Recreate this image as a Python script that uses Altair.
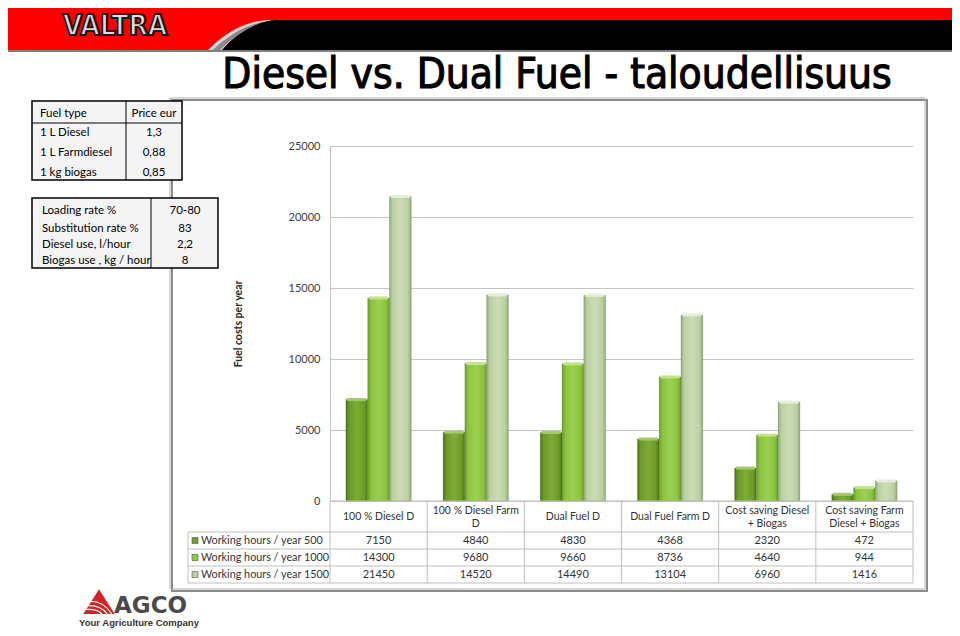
import altair as alt
import pandas as pd

# ---------------- data ----------------
categories = ["100 % Diesel D", "100 % Diesel Farm D", "Dual Fuel D", "Dual Fuel Farm D",
              "Cost saving Diesel + Biogas", "Cost saving Farm Diesel + Biogas"]
category_labels = ["100 % Diesel D", "100 % Diesel Farm\nD", "Dual Fuel D", "Dual Fuel Farm D",
                   "Cost saving Diesel\n+ Biogas", "Cost saving Farm\nDiesel + Biogas"]
series = ["Working hours / year 500", "Working hours / year 1000", "Working hours / year 1500"]
hours_500 = [7150, 4840, 4830, 4368, 2320, 472]
hours_1000 = [14300, 9680, 9660, 8736, 4640, 944]
hours_1500 = [21450, 14520, 14490, 13104, 6960, 1416]

fuel_header = ["Fuel type", "Price eur"]
fuel_types = ["1 L Diesel", "1 L Farmdiesel", "1 kg biogas"]
fuel_prices = ["1,3", "0,88", "0,85"]
param_names = ["Loading rate %", "Substitution rate %", "Diesel  use, l/hour", "Biogas use , kg / hour"]
param_values = ["70-80", "83", "2,2", "8"]

y_ticks = [0, 5000, 10000, 15000, 20000, 25000]

title_text = "Diesel vs. Dual Fuel - taloudellisuus"
y_title = "Fuel costs per year"

# ---------------- layout helpers (page px -> plot px) ----------------
X0, Y0 = 330, 146
W, H = 583, 355


def rx(x):
    return x - X0


def ry(y):
    return y - Y0


one = pd.DataFrame({"k": [0]})


def rect(x1, y1, x2, y2, **kw):
    return alt.Chart(one).mark_rect(**kw).encode(
        x=alt.value(rx(x1)), x2=alt.value(rx(x2)), y=alt.value(ry(y1)), y2=alt.value(ry(y2)))


def hline(x1, x2, y, color="#bfbfbf", w=1):
    return alt.Chart(one).mark_rule(color=color, strokeWidth=w).encode(
        x=alt.value(rx(x1)), x2=alt.value(rx(x2)), y=alt.value(ry(y)))


def vline(x, y1, y2, color="#bfbfbf", w=1):
    return alt.Chart(one).mark_rule(color=color, strokeWidth=w).encode(
        x=alt.value(rx(x)), y=alt.value(ry(y1)), y2=alt.value(ry(y2)))


def label(s, x, y, **kw):
    return alt.Chart(one).mark_text(text=s, **kw).encode(x=alt.value(rx(x)), y=alt.value(ry(y)))


def symbol(path, cx, cy, half, **kw):
    return alt.Chart(one).mark_point(shape=path, size=(2 * half) ** 2, opacity=1, **kw).encode(
        x=alt.value(rx(cx)), y=alt.value(ry(cy)))


BODY = "Lato"
NARROW = "Liberation Sans Narrow, DejaVu Sans Condensed, sans-serif"

# ---------------- bar data ----------------
rows = []
for s, vals in zip(series, [hours_500, hours_1000, hours_1500]):
    for c, v in zip(categories, vals):
        rows.append({"category": c, "series": s, "value": v})
df = pd.DataFrame(rows)
df_cat = pd.DataFrame({"category": categories, "label": category_labels})
df_cat["nlines"] = df_cat["label"].str.count("\n") + 1

xs = alt.Scale(domain=categories, paddingInner=0, paddingOuter=0)
xo = alt.Scale(domain=series, paddingInner=0, paddingOuter=0.73)
ys = alt.Scale(domain=[0, 25000], nice=False, zero=True)

yaxis = alt.Axis(values=y_ticks, format="d", grid=True, gridColor="#c4c4c4", gridWidth=1,
                 domain=True, domainColor="#c4c4c4", ticks=False, labelPadding=10,
                 labelFont=BODY, labelFontSize=11, labelColor="#404040",
                 title=y_title, titleFont=BODY, titleFontSize=10.5, titleFontWeight="bold",
                 titleColor="#262626", titleX=-92, titleY=H / 2, titleAngle=-90,
                 titleAlign="center", titleBaseline="middle")


def grad(edge, mid, centre):
    return alt.Gradient(gradient="linear", x1=0, x2=1, y1=0, y2=0, stops=[
        alt.GradientStop(offset=0, color=edge),
        alt.GradientStop(offset=0.15, color=mid),
        alt.GradientStop(offset=0.5, color=centre),
        alt.GradientStop(offset=0.85, color=mid),
        alt.GradientStop(offset=1, color=edge)])


fills = [grad("#4a7218", "#6c9a28", "#7cad35"),
         grad("#6c9c28", "#8bc23e", "#9bd150"),
         grad("#90a87b", "#bbd1a1", "#cbdcb6")]
caps = ["#a3cc66", "#c2e684", "#e4eed8"]
keys = ["#6e9d2b", "#8dc63f", "#bcd2a2"]

layers = []

# ---------------- header ----------------
layers.append(rect(-10, -10, 970, 50, color="#ff0000"))
layers.append(rect(276, 20, 970, 50, color="#000000"))
layers.append(symbol("M -1.4 0.5 Q -0.45 -0.45 0.6 -0.5 L 0.9 -0.5 Q -0.1 -0.45 -0.933 0.5 Z",
                     250, 35, 30, filled=True, color="#d9d9d9", strokeWidth=0))
layers.append(symbol("M -0.933 0.5 Q -0.1 -0.45 0.9 -0.5 L 1 -0.5 L 1 0.5 Z",
                     250, 35, 30, filled=True, color="#000000", strokeWidth=0))
layers.append(symbol("M -1.25 0.5 Q -0.4 -0.3 0.5 -0.45 Q -0.2 -0.25 -1.0 0.5 Z",
                     250, 35, 30, filled=True, color="#8a8a8a", strokeWidth=0))
layers.append(hline(-10, 970, 51, color="#7f7f7f", w=2))
layers.append(label("VALTRA", 115, 27, font="DejaVu Sans Condensed, DejaVu Sans, sans-serif",
                    fontSize=28, fontWeight="bold", color="#dedede",
                    stroke="#1a1a1a", strokeWidth=2, align="center", baseline="middle"))
layers.append(label(title_text, 557, 88, font=NARROW,
                    fontSize=42, color="#000000", stroke="#000000", strokeWidth=1.1,
                    align="center", baseline="alphabetic"))

# ---------------- chart frame ----------------
layers.append(rect(172, 100, 927, 591, filled=False, stroke="#8c8c8c", strokeWidth=2))
layers.append(rect(170, 98, 925, 589, filled=False, stroke="#b0b0b0", strokeWidth=1))

# ---------------- left info tables ----------------
layers.append(rect(32, 101, 182, 180, color="#f4f4f4", stroke="#000000", strokeWidth=1.5))
layers.append(vline(126, 101, 180, color="#000000", w=1))
layers.append(hline(32, 182, 123, color="#000000", w=1))
layers.append(label(fuel_header[0], 40, 114, font=BODY, fontSize=11.5, color="#000", align="left", baseline="middle"))
layers.append(label(fuel_header[1], 154, 114, font=BODY, fontSize=11.5, color="#000", align="center", baseline="middle"))
for i, (ft, fp) in enumerate(zip(fuel_types, fuel_prices)):
    yy = 133 + 20 * i
    layers.append(label(ft, 40, yy, font=BODY, fontSize=11.5, color="#000", align="left", baseline="middle"))
    layers.append(label(fp, 154, yy, font=BODY, fontSize=11.5, color="#000", align="center", baseline="middle"))

layers.append(rect(32, 198, 218, 268, color="#f4f4f4", stroke="#000000", strokeWidth=1.5))
layers.append(vline(151, 198, 268, color="#000000", w=1))
param_y = [211, 229, 245, 261]
for pn, pv, yy in zip(param_names, param_values, param_y):
    layers.append(label(pn, 42, yy, font=BODY, fontSize=11.5, color="#000", align="left", baseline="middle"))
    layers.append(label(pv, 185, yy, font=BODY, fontSize=11.5, color="#000", align="center", baseline="middle"))

# ---------------- bars ----------------
for s, f, cap in zip(series, fills, caps):
    base = alt.Chart(df).transform_filter(alt.datum.series == s)
    layers.append(base.mark_bar(color=f, stroke="#5a6e45", strokeWidth=0.4, strokeOpacity=0.6).encode(
        x=alt.X("category:N", scale=xs, axis=None),
        xOffset=alt.XOffset("series:N", scale=xo),
        y=alt.Y("value:Q", scale=ys, axis=yaxis)))
    layers.append(base.mark_tick(orient="horizontal", thickness=3, size=19, color=cap, opacity=1).encode(
        x=alt.X("category:N", scale=xs, axis=None),
        xOffset=alt.XOffset("series:N", scale=xo),
        y=alt.Y("value:Q", scale=ys, axis=yaxis)))

# ---------------- data table under the plot ----------------
row_lines = [532, 549, 566, 583]
row_mid = [540.5, 557.5, 574.5]
for yy in row_lines:
    layers.append(hline(188, 913, yy))
layers.append(hline(330, 913, 501))
layers.append(vline(188, 532, 583))
layers.append(alt.Chart(df_cat).mark_rule(color="#bfbfbf", strokeWidth=1).encode(
    x=alt.X("category:N", scale=xs, axis=None, bandPosition=0),
    y=alt.value(ry(501)), y2=alt.value(ry(583))))
layers.append(vline(913, 501, 583))
for n, ytop in [(1, 517), (2, 510.5)]:
    layers.append(alt.Chart(df_cat).transform_filter(alt.datum.nlines == n).mark_text(
        font=BODY, fontSize=10.5, color="#333333", lineBreak="\n",
        baseline="middle", lineHeight=13).encode(
        x=alt.X("category:N", scale=xs, axis=None),
        y=alt.value(ry(ytop)), text="label:N"))
for s, yy, k in zip(series, row_mid, keys):
    layers.append(alt.Chart(df).transform_filter(alt.datum.series == s).mark_text(
        font=BODY, fontSize=11, color="#333333", baseline="middle").encode(
        x=alt.X("category:N", scale=xs, axis=None),
        y=alt.value(ry(yy)), text=alt.Text("value:Q", format="d")))
    layers.append(alt.Chart(pd.DataFrame({"series": [s]})).mark_square(
        size=36, color=k, opacity=1, stroke="#4d5d3a", strokeWidth=0.6).encode(
        x=alt.value(rx(195)), y=alt.value(ry(yy))))
    layers.append(alt.Chart(pd.DataFrame({"series": [s]})).mark_text(
        font=BODY, fontSize=10.8, color="#333333", align="left", baseline="middle").encode(
        x=alt.value(rx(201)), y=alt.value(ry(yy)), text="series:N"))

# ---------------- AGCO logo ----------------
layers.append(symbol("M 0 -0.85 L 1.05 0.8 L -1.05 0.8 Z", 99, 602, 15, filled=True,
                     color="#d2232a", strokeWidth=0))
layers.append(symbol("M -0.75 0.25 Q 0.1 0.2 0.55 0.8 M -0.9 0.5 Q -0.1 0.45 0.2 0.8 M -0.55 -0.05 Q 0.3 -0.05 0.85 0.8",
                     99, 602, 15, filled=False, color="#ffffff", strokeWidth=1.2))
layers.append(label("AGCO", 114, 606, font="DejaVu Sans", fontSize=23, fontWeight="bold",
                    color="#4a4a4a", align="left", baseline="middle"))
layers.append(label("Your Agriculture Company", 139, 623, font="Liberation Sans", fontSize=9.5,
                    fontWeight="bold", color="#3a3030", align="center", baseline="middle"))

chart = alt.layer(*layers).properties(
    width=W, height=H,
    padding={"left": X0 - 8, "top": Y0 - 8, "right": 952 - (X0 + W), "bottom": 127},
    autosize=alt.AutoSizeParams(type="none"),
).configure_view(stroke=None)

chart.save("out.html", embed_options={"renderer": "svg", "actions": False})
